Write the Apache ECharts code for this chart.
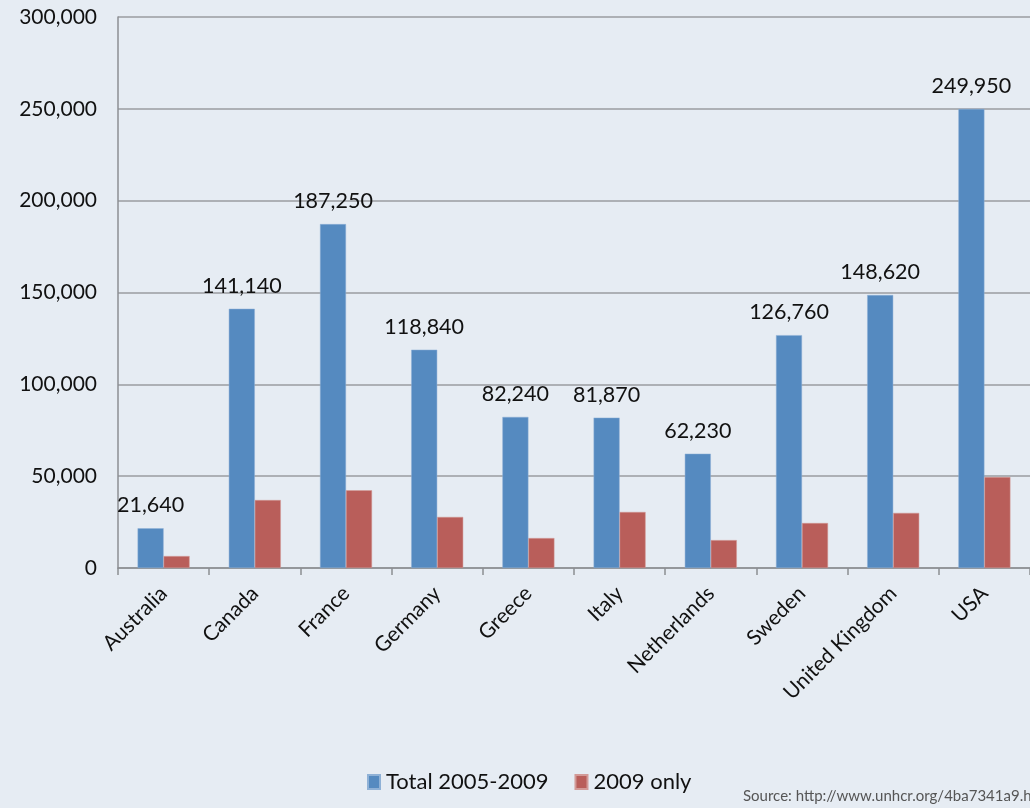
<!DOCTYPE html>
<html>
<head>
<meta charset="utf-8">
<script src="https://cdn.jsdelivr.net/npm/echarts@6/dist/echarts.min.js"></script>
<style>
  html, body { margin: 0; padding: 0; background: #e6ecf3; }
  #main { width: 1030px; height: 808px; }
</style>
</head>
<body>
<div id="main"></div>
<script>
var countries = ["Australia", "Canada", "France", "Germany", "Greece", "Italy", "Netherlands", "Sweden", "United Kingdom", "USA"];
var total0509 = [21640, 141140, 187250, 118840, 82240, 81870, 62230, 126760, 148620, 249950];
var only2009 = [6500, 37000, 42300, 27800, 16300, 30500, 15200, 24500, 30000, 49500];
var seriesNames = ["Total 2005-2009", "2009 only"];
var sourceText = "Source: http://www.unhcr.org/4ba7341a9.html";

var myChart = echarts.init(document.getElementById("main"));
var fontFam = "Lato, 'Open Sans', sans-serif";

var option = {
  backgroundColor: "#e6ecf3",
  animation: false,
  textStyle: { fontFamily: fontFam, color: "#111" },
  grid: { left: 118, right: -6, top: 17, bottom: 240 },
  legend: {
    data: seriesNames,
    left: 362,
    top: 766,
    itemWidth: 12,
    itemHeight: 14,
    itemGap: 26,
    icon: "rect",
    textStyle: { fontSize: 22, color: "#111", fontFamily: fontFam, padding: [0, 0, 0, 1] }
  },
  xAxis: {
    type: "category",
    data: countries,
    axisLine: { lineStyle: { color: "#8c8f93", width: 1.5 } },
    axisTick: { show: true, length: 7, lineStyle: { color: "#8c8f93", width: 1.5 } },
    axisLabel: { rotate: 45, fontSize: 21, color: "#111", margin: 22, interval: 0 }
  },
  yAxis: {
    type: "value",
    min: 0,
    max: 300000,
    interval: 50000,
    axisLine: { show: true, lineStyle: { color: "#8c8f93", width: 1.5 } },
    axisTick: { show: false },
    splitLine: { lineStyle: { color: "#9a9da1", width: 1.5 } },
    axisLabel: {
      fontSize: 21, color: "#111", margin: 21,
      formatter: function (v) { return v.toLocaleString("en-US"); }
    }
  },
  series: [
    {
      name: seriesNames[0],
      type: "bar",
      data: total0509,
      barWidth: 26,
      barGap: "0%",
      itemStyle: { color: "#558ac0", borderColor: "#8fb1d6", borderWidth: 0.5 },
      label: {
        show: true, position: "top", distance: 12, fontSize: 21.5, color: "#111",
        formatter: function (p) { return p.value.toLocaleString("en-US"); }
      }
    },
    {
      name: seriesNames[1],
      type: "bar",
      data: only2009,
      barWidth: 26,
      itemStyle: { color: "#b95e5a", borderColor: "#d29a97", borderWidth: 0.5 }
    }
  ],
  graphic: [
    {
      type: "text",
      left: 743,
      top: 789,
      style: { text: sourceText, fontSize: 15, fill: "#555", fontFamily: fontFam }
    }
  ]
};

myChart.setOption(option);
</script>
</body>
</html>
